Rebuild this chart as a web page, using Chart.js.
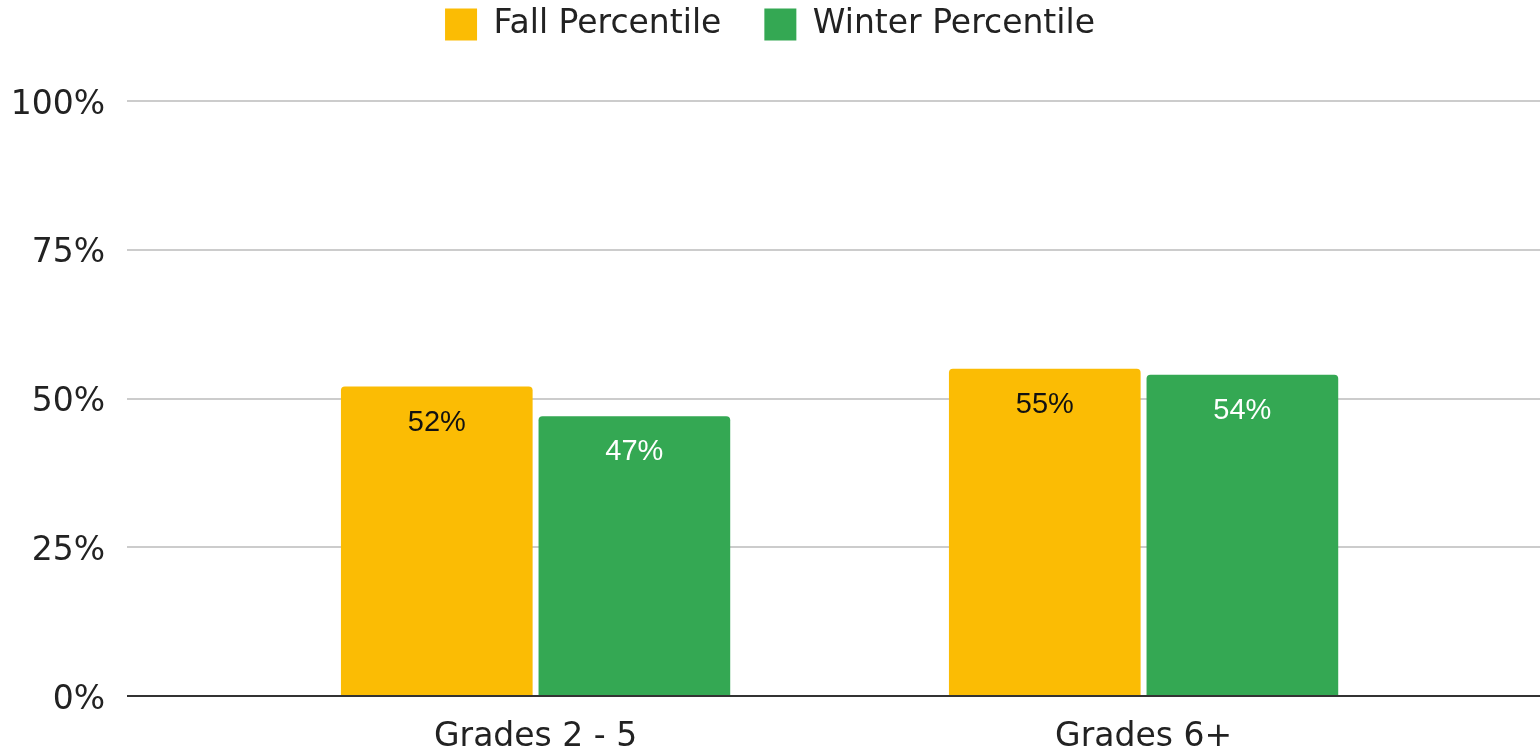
<!DOCTYPE html>
<html>
<head>
<meta charset="utf-8">
<script src="https://cdn.jsdelivr.net/npm/chart.js@4"></script>
<style>
  html,body{margin:0;padding:0;background:#fff;}
  #wrap{width:1540px;height:753px;position:relative;}
</style>
</head>
<body>
<div id="wrap"><canvas id="chart"></canvas></div>
<script>
// Data
const categories=['Grades 2 - 5','Grades 6+'];
const fallValues=[52,55];
const winterValues=[47,54];
const yTicks=[0,25,50,75,100];

const fallColor='#FBBC04';
const winterColor='#34A853';

// fixed legend block height so the plot starts at the right place
const legendMargin={id:'legendMargin',beforeInit(chart){
  const fit=chart.legend.fit;
  chart.legend.fit=function(){ fit.bind(chart.legend)(); this.height=136; };
}};

// value labels inside bars
const barLabels={id:'barLabels',afterDatasetsDraw(chart){
  const ctx=chart.ctx;
  ctx.save();
  ctx.font='29px "Liberation Sans", Arial, sans-serif';
  ctx.textAlign='center'; ctx.textBaseline='middle';
  chart.data.datasets.forEach((ds,i)=>{
    chart.getDatasetMeta(i).data.forEach((bar,j)=>{
      ctx.fillStyle=ds.labelColor;
      ctx.fillText(ds.data[j].y+'%',bar.x,bar.y+36);
    });
  });
  ctx.restore();
}};

const font33={family:'"DejaVu Sans", sans-serif',size:33};

const ctx=document.getElementById('chart').getContext('2d');
new Chart(ctx,{
  type:'bar',
  data:{
    datasets:[
      {label:'Fall Percentile',data:fallValues.map((v,i)=>({x:i,y:v})),backgroundColor:fallColor,labelColor:'#111',borderRadius:4},
      {label:'Winter Percentile',data:winterValues.map((v,i)=>({x:i,y:v})),backgroundColor:winterColor,labelColor:'#fff',borderRadius:4}
    ]
  },
  options:{
    responsive:true,maintainAspectRatio:false,animation:false,
    categoryPercentage:0.65,barPercentage:0.97,
    layout:{padding:{left:0,right:0,top:-35,bottom:0}},
    plugins:{
      legend:{position:'top',labels:{boxWidth:32,boxHeight:32,padding:43,color:'#222',font:font33}},
      tooltip:{enabled:false}
    },
    scales:{
      x:{type:'linear',min:-0.672,max:1.652,offset:false,
        afterBuildTicks:s=>{s.ticks=categories.map((c,i)=>({value:i}));},
        afterFit:s=>{s.height=57;},
        ticks:{callback:v=>categories[v],color:'#222',padding:14,maxRotation:0,font:font33},
        grid:{display:false,offset:false},border:{display:false}},
      y:{min:0,max:100,
        afterBuildTicks:s=>{s.ticks=yTicks.map(v=>({value:v}));},
        afterFit:s=>{s.width=127;},
        ticks:{callback:v=>v+'%',color:'#222',padding:22,labelOffset:4,font:font33},
        grid:{drawTicks:false,lineWidth:2,color:c=>c.tick&&c.tick.value===0?'#333':'#ccc'},
        border:{display:false}}
    }
  },
  plugins:[legendMargin,barLabels]
});
</script>
</body>
</html>
